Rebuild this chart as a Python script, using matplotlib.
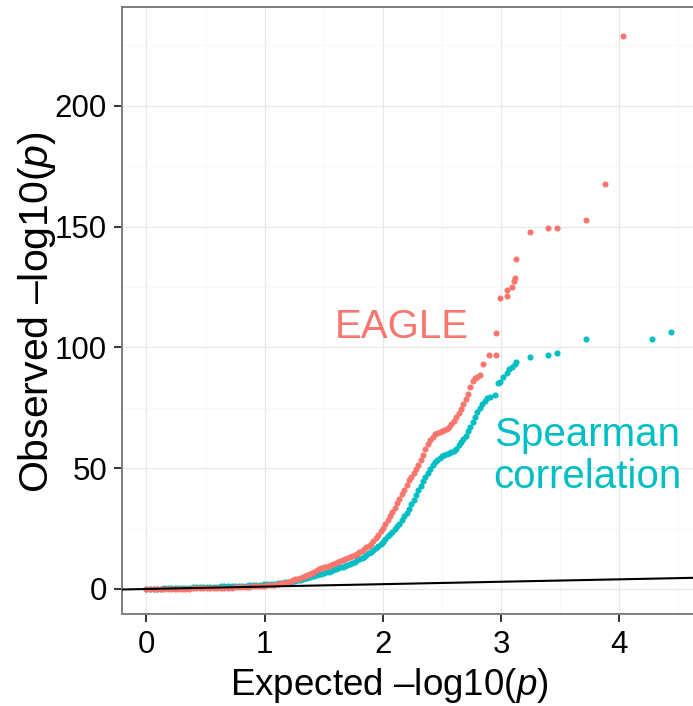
import matplotlib
matplotlib.use("Agg")
import matplotlib.pyplot as plt
from matplotlib.ticker import MultipleLocator

# expected -log10(p) for the dense part of the QQ curve (shared by both series)
expected_dense = [
    0.00, 0.03, 0.06, 0.09, 0.12, 0.15, 0.18, 0.21, 0.24, 0.27,
    0.30, 0.33, 0.36, 0.39, 0.42, 0.45, 0.48, 0.51, 0.54, 0.57,
    0.60, 0.63, 0.66, 0.69, 0.72, 0.75, 0.78, 0.81, 0.84, 0.87,
    0.90, 0.93, 0.96, 0.99, 1.02, 1.05, 1.08, 1.11, 1.14, 1.17,
    1.20,
    1.22, 1.24, 1.26, 1.28, 1.30, 1.32, 1.34, 1.36, 1.38, 1.40,
    1.42, 1.44, 1.46, 1.48, 1.50, 1.52, 1.54, 1.56, 1.58, 1.60,
    1.62, 1.64, 1.66, 1.68, 1.70, 1.72, 1.74, 1.76, 1.78, 1.80,
    1.82, 1.84, 1.86, 1.88, 1.90, 1.92, 1.94, 1.96, 1.98, 2.00,
    2.02, 2.04, 2.06, 2.08, 2.10, 2.12, 2.14, 2.16, 2.18, 2.20,
    2.22, 2.24, 2.26, 2.28, 2.30, 2.32, 2.34, 2.36, 2.38, 2.40,
    2.42, 2.44, 2.46, 2.48, 2.50, 2.52, 2.54, 2.56, 2.58, 2.60,
    2.62, 2.64, 2.66, 2.68, 2.70, 2.72, 2.74, 2.76, 2.78, 2.80,
    2.82, 2.84, 2.86, 2.88,
]

# observed -log10(p), EAGLE (up to expected 2.80)
eagle_dense = [
    0.00, 0.00, 0.02, 0.03, 0.05, 0.06, 0.08, 0.10, 0.12, 0.14,
    0.16, 0.18, 0.20, 0.22, 0.25, 0.28, 0.31, 0.34, 0.37, 0.40,
    0.43, 0.47, 0.51, 0.55, 0.60, 0.65, 0.71, 0.78, 0.86, 0.95,
    1.05, 1.15, 1.25, 1.35, 1.50, 1.65, 1.85, 2.05, 2.30, 2.60,
    2.90,
    3.39, 3.68, 3.97, 4.26, 4.59, 5.01, 5.46, 5.92, 6.33, 6.79,
    7.20, 7.66, 8.11, 8.53, 8.90, 9.31, 9.69, 10.10, 10.47, 10.84,
    11.26, 11.67, 12.04, 12.43, 12.83, 13.20, 13.70, 14.16, 14.65, 15.15,
    15.85, 16.64, 17.30, 17.88, 18.75, 19.91, 21.15, 22.52, 23.88, 25.37,
    26.70, 28.44, 30.22, 32.00, 33.73, 35.51, 37.25, 39.15, 41.14, 43.09,
    45.03, 46.56, 48.14, 49.75, 51.32, 53.27, 55.63, 57.95, 59.85, 61.84,
    63.12, 64.16, 64.53, 64.90, 65.31, 65.73, 66.06, 66.93, 68.13, 69.66,
    71.27, 72.85, 74.46, 76.37, 78.52, 80.83, 83.65, 86.09, 87.33, 87.91,
]
eagle_tail_x = [2.82, 2.85, 2.90, 2.96, 2.96, 2.99, 3.05, 3.05, 3.09,
                3.11, 3.12, 3.13, 3.24, 3.40, 3.47, 3.72, 3.88, 4.03]
eagle_tail_y = [88.5, 93.0, 96.7, 96.7, 105.8, 120.3, 121.1, 123.6, 124.9,
                127.6, 128.9, 136.5, 147.6, 149.3, 149.3, 152.6, 167.5, 228.8]

# observed -log10(p), Spearman correlation
spearman_dense = [
    0.00, 0.05, 0.10, 0.15, 0.20, 0.25, 0.30, 0.35, 0.40, 0.45,
    0.50, 0.55, 0.60, 0.65, 0.70, 0.75, 0.80, 0.85, 0.90, 0.95,
    1.00, 1.05, 1.10, 1.15, 1.20, 1.25, 1.30, 1.35, 1.40, 1.50,
    1.60, 1.70, 1.80, 1.90, 2.00, 2.10, 2.25, 2.40, 2.55, 2.75,
    2.95,
    2.94, 3.15, 3.35, 3.56, 3.77, 4.06, 4.35, 4.64, 4.93, 5.22,
    5.50, 5.79, 6.08, 6.37, 6.62, 6.87, 7.08, 7.33, 7.74, 8.11,
    8.49, 8.94, 9.31, 9.64, 9.98, 10.31, 10.80, 11.30, 11.80, 12.29,
    12.83, 13.45, 14.11, 14.74, 15.40, 16.10, 16.85, 17.63, 18.46, 19.62,
    20.82, 21.77, 22.76, 23.76, 24.71, 25.87, 26.95, 28.52, 30.09, 31.62,
    33.20, 35.02, 36.92, 38.91, 40.89, 42.76, 44.54, 46.32, 48.05, 49.79,
    51.12, 52.48, 53.27, 54.39, 54.97, 55.38, 55.75, 56.13, 56.54, 56.99,
    58.15, 59.52, 60.72, 62.13, 63.53, 65.23, 67.09, 69.25, 71.40, 73.14,
    74.96, 76.45, 77.86, 78.97,
]
spearman_tail_x = [2.91, 2.95, 2.97, 2.99, 3.02, 3.05, 3.07, 3.09,
                   3.12, 3.13, 3.24, 3.40, 3.47, 3.72, 4.28, 4.44]
spearman_tail_y = [79.5, 80.3, 85.3, 85.8, 87.7, 89.4, 91.1, 91.9,
                   93.3, 94.0, 95.9, 96.7, 97.6, 103.3, 103.3, 106.2]

x_ticks = [0, 1, 2, 3, 4]
y_ticks = [0, 50, 100, 150, 200]

eagle_x = expected_dense[:len(eagle_dense)] + eagle_tail_x
eagle_y = eagle_dense + eagle_tail_y
spearman_x = expected_dense[:len(spearman_dense)] + spearman_tail_x
spearman_y = spearman_dense + spearman_tail_y

plt.rcParams["font.family"] = ["Liberation Sans", "DejaVu Sans"]
plt.rcParams["mathtext.fontset"] = "custom"
plt.rcParams["mathtext.rm"] = "Liberation Sans"
plt.rcParams["mathtext.it"] = "Liberation Sans:italic"

fig = plt.figure(figsize=(6.93, 7.06), dpi=100)
ax = fig.add_axes([0.17605, 0.13031, 0.82395, 0.85977])

ax.plot(spearman_x, spearman_y, "o", color="#00BFC4", ms=4.4, mew=0, zorder=3)
ax.plot(eagle_x, eagle_y, "o", color="#F8766D", ms=4.4, mew=0, zorder=4)
ax.axline((0, 0), slope=1, color="black", lw=1.5, zorder=5)

ax.text(2.16, 108.3, "EAGLE", color="#F8766D", fontsize=29,
        ha="center", va="center")
ax.text(3.73, 55.0, "Spearman\ncorrelation", color="#00BFC4", fontsize=29,
        ha="center", va="center", linespacing=1.15)

ax.set_xlim(-0.207, 4.623)
ax.set_ylim(-10.35, 240.9)
ax.set_xticks(x_ticks)
ax.set_yticks(y_ticks)
ax.xaxis.set_minor_locator(MultipleLocator(0.5))
ax.yaxis.set_minor_locator(MultipleLocator(25))

ax.grid(which="major", color="#E8E8E8", lw=0.9)
ax.grid(which="minor", color="#F7F7F7", lw=0.7)
ax.set_axisbelow(True)

for side in ["left", "bottom", "top"]:
    ax.spines[side].set_color("#7F7F7F")
    ax.spines[side].set_linewidth(1.4)
ax.spines["right"].set_visible(False)

ax.tick_params(which="major", length=5.8, width=1.3, color="#222222",
               labelsize=22.5, labelcolor="black")
ax.tick_params(axis="x", pad=6)
ax.tick_params(axis="y", pad=5)
ax.tick_params(which="minor", length=0)

ax.set_xlabel("Expected \u2013log10($p$)", fontsize=26.5)
ax.set_ylabel("Observed \u2013log10($p$)", fontsize=29.5)
ax.xaxis.set_label_coords(0.4676, -0.0857)
ax.yaxis.set_label_coords(-0.112, 0.498)

fig.savefig("out.png", dpi=100)
